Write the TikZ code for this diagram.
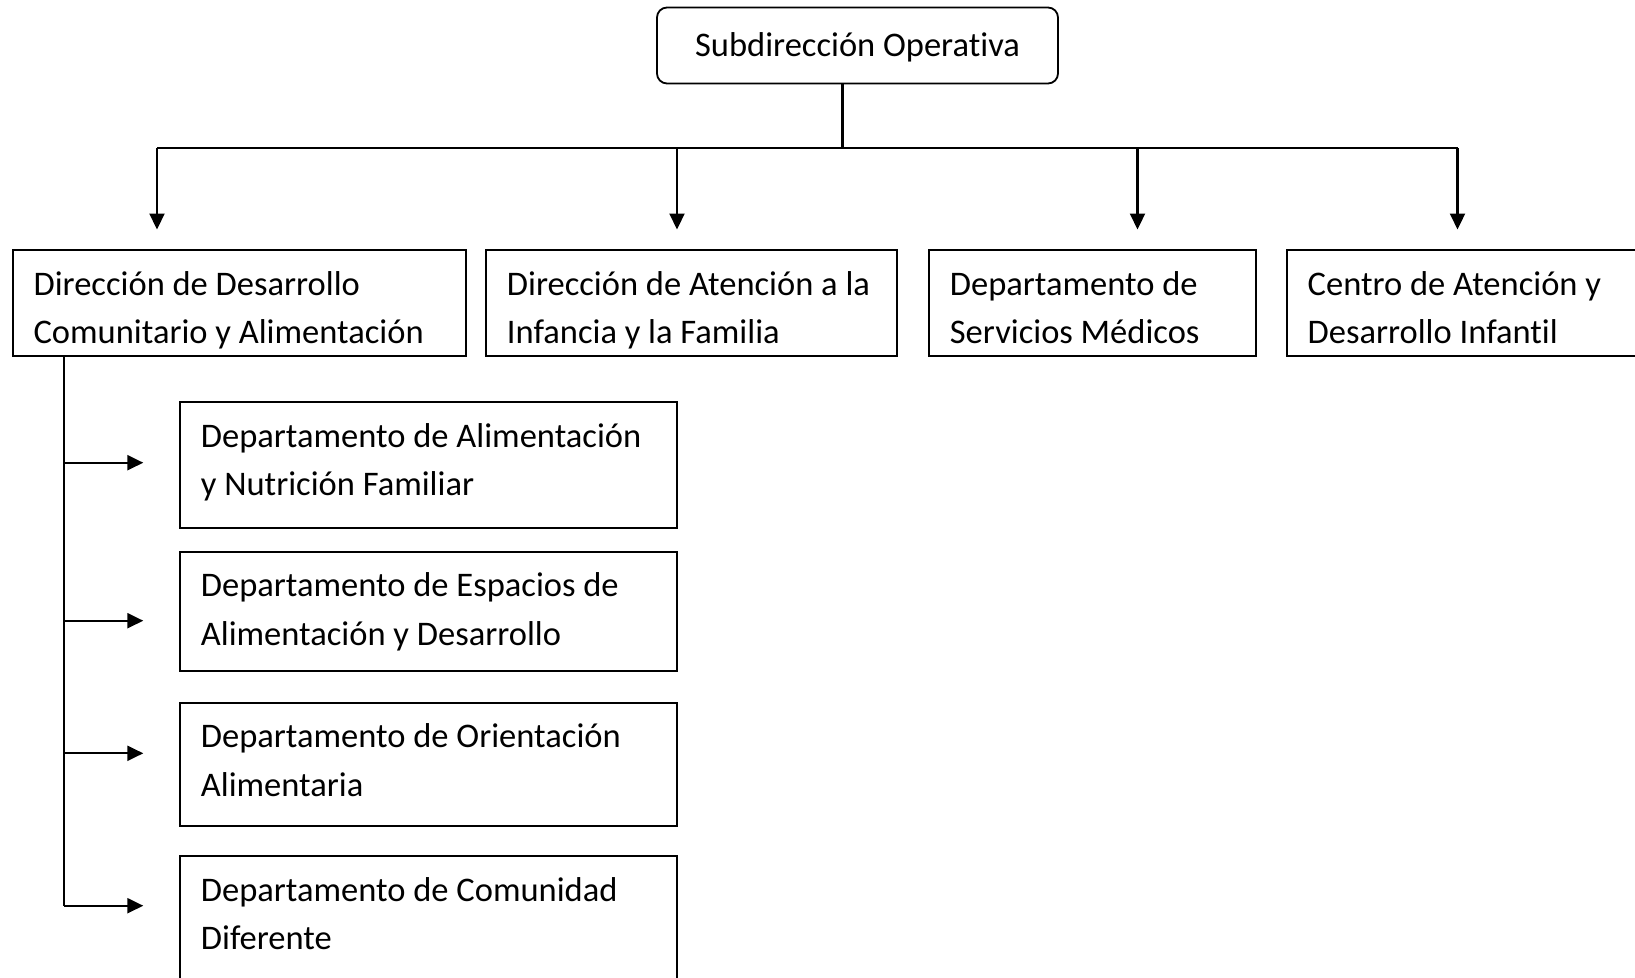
\documentclass[tikz,border=0pt]{standalone}
\usepackage{fontspec}
\setmainfont{Carlito}[Ligatures={NoCommon,NoContextual,NoRare}]
\usetikzlibrary{arrows.meta}
\begin{document}
\begin{tikzpicture}[x=1bp,y=-1bp,
  box/.style={draw, line width=1.8bp, rectangle, outer sep=0pt, inner sep=0pt, anchor=north west},
  rbox/.style={box, rounded corners=10bp},
  txt/.style={anchor=base west, inner sep=0pt, font=\fontsize{34.5bp}{48.5bp}\selectfont},
  conn/.style={line width=2.2bp},
  arr/.style={conn, -{Triangle[length=16bp,width=15bp]}}]
\useasboundingbox (0,0) rectangle (1635,977);
\clip (0,0) rectangle (1635,977);
\fill[white] (0,0) rectangle (1635,977);

% top box
\node[rbox, minimum width=401bp, minimum height=76bp] (top) at (657,7.5) {};
\node[txt, anchor=base] (toptxt) at (857.5,56) {Subdirección Operativa};

% second row boxes
\node[box, minimum width=453bp, minimum height=106bp] (b1) at (12.7,250) {};
\node[box, minimum width=411bp, minimum height=106bp] (b2) at (486,250) {};
\node[box, minimum width=327bp, minimum height=106bp] (b3) at (929,250) {};
\node[box, minimum width=420bp, minimum height=106bp] (b4) at (1287,250) {};

\node[txt] (b1t) at (33.4,295) {\parbox[t]{600bp}{Dirección de Desarrollo\\Comunitario y Alimentación}};
\node[txt] (b2t) at (506.7,295) {\parbox[t]{600bp}{Dirección de Atención a la\\Infancia y la Familia}};
\node[txt] (b3t) at (949.7,295) {\parbox[t]{600bp}{Departamento de\\Servicios Médicos}};
\node[txt] (b4t) at (1307.5,295) {\parbox[t]{600bp}{Centro de Atención y\\Desarrollo Infantil}};

% sub boxes
\node[box, minimum width=497bp, minimum height=125.4bp] (s1) at (180,402.3) {};
\node[box, minimum width=497bp, minimum height=119bp] (s2) at (180,551.7) {};
\node[box, minimum width=497bp, minimum height=123.3bp] (s3) at (180,702.7) {};
\node[box, minimum width=497bp, minimum height=160bp] (s4) at (180,856) {};

\node[txt] (s1t) at (200.7,447.3) {\parbox[t]{600bp}{Departamento de Alimentación\\y Nutrición Familiar}};
\node[txt] (s2t) at (200.7,596.7) {\parbox[t]{600bp}{Departamento de Espacios de\\Alimentación y Desarrollo}};
\node[txt] (s3t) at (200.7,747.7) {\parbox[t]{600bp}{Departamento de Orientación\\Alimentaria}};
\node[txt] (s4t) at (200.7,901) {\parbox[t]{600bp}{Departamento de Comunidad\\Diferente}};

% connectors top
\coordinate (j) at (842.5,148);
\coordinate (hl) at (157,148);
\coordinate (hr) at (1457.5,148);
\coordinate (h2) at (677,148);
\coordinate (h3) at (1137.5,148);
\coordinate (a1) at (157,229.5);
\coordinate (a2) at (677,229.5);
\coordinate (a3) at (1137.5,229.5);
\coordinate (a4) at (1457.5,229.5);
\draw[conn] (top.south -| j) -- (j);
\draw[conn] (hl) -- (hr);
\draw[arr] (hl) -- (a1);
\draw[arr] (h2) -- (a2);
\draw[arr] (h3) -- (a3);
\draw[arr] (hr) -- (a4);

% left branch
\coordinate (v0) at (64.3,356);
\coordinate (v1) at (64.3,462.7);
\coordinate (v2) at (64.3,620.7);
\coordinate (v3) at (64.3,753.3);
\coordinate (v4) at (64.3,905.7);
\coordinate (e1) at (143.3,462.7);
\coordinate (e2) at (143.3,620.7);
\coordinate (e3) at (143.3,753.3);
\coordinate (e4) at (143.3,905.7);
\draw[conn] (v0) -- (v4);
\draw[arr] (v1) -- (e1);
\draw[arr] (v2) -- (e2);
\draw[arr] (v3) -- (e3);
\draw[arr] (v4) -- (e4);
\end{tikzpicture}
\end{document}
